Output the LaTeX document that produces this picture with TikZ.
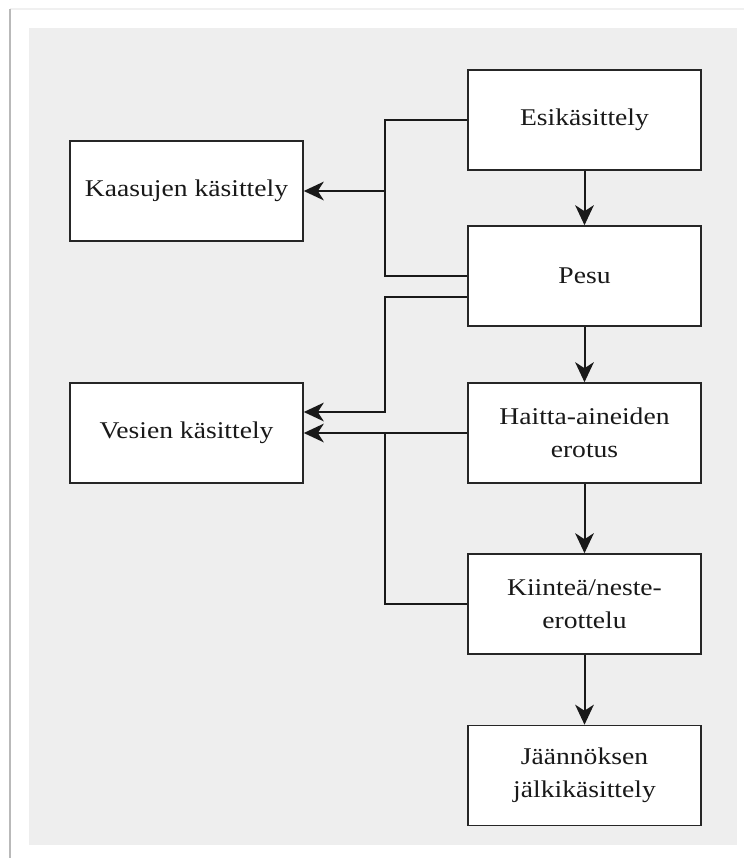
\documentclass[tikz,border=0pt]{standalone}
\usepackage{fontspec}
\setmainfont[FakeStretch=1.15]{Liberation Serif}
\usetikzlibrary{arrows.meta}
\definecolor{panelgrey}{HTML}{EEEEEE}
\begin{document}
\begin{tikzpicture}[x=0.75pt,y=-0.75pt,
  box/.style={draw=black!85,line width=1.2pt,fill=white,minimum width=174.75pt,minimum height=75pt,
    inner sep=0pt,align=center,text=black!90,font=\fontsize{18}{24.5}\selectfont},
  link/.style={draw=black!90,line width=1.5pt},
  flow/.style={link,-{Stealth[length=15pt,width=14pt,inset=4.5pt]}}]
\useasboundingbox (0,0) rectangle (744,858);
% page and frame
\fill[white] (0,0) rectangle (744,858);
\fill[gray!12] (10,8) rectangle (744,10);
\draw[gray!55,line width=1.5pt] (10,9) -- (10,858);
\fill[panelgrey] (29,28) rectangle (737,845);
% process steps
\node[box] (esi) at (584.5,120) {Esikäsittely};
\node[box] (pesu) at (584.5,276) {Pesu};
\node[box] (haitta) at (584.5,433) {Haitta-aineiden\\erotus};
\node[box] (kiintea) at (584.5,604) {Kiinteä/neste-\\erottelu};
\node[box] (jaannos) at (584.5,775.5) {Jäännöksen\\jälkikäsittely};
% side treatments
\node[box] (kaasu) at (186.5,191) {Kaasujen käsittely};
\node[box] (vesi) at (186.5,433) {Vesien käsittely};
% main chain
\draw[flow] (esi) -- (pesu);
\draw[flow] (pesu) -- (haitta);
\draw[flow] (haitta) -- (kiintea);
\draw[flow] (kiintea) -- (jaannos);
% gases
\coordinate (j1) at (385,191);
\draw[link] (esi.west) -| (j1) |- (pesu.west);
\draw[flow] (j1) -- (kaasu);
% waters
\coordinate (j2) at (385,412);
\coordinate (j3) at (385,433);
\draw[flow] ([yshift=-15.75pt]pesu.west) -| (j2) -- ([yshift=15.75pt]vesi.east);
\draw[flow] (haitta) -- (vesi);
\draw[link] (kiintea.west) -| (j3);
\end{tikzpicture}
\end{document}
